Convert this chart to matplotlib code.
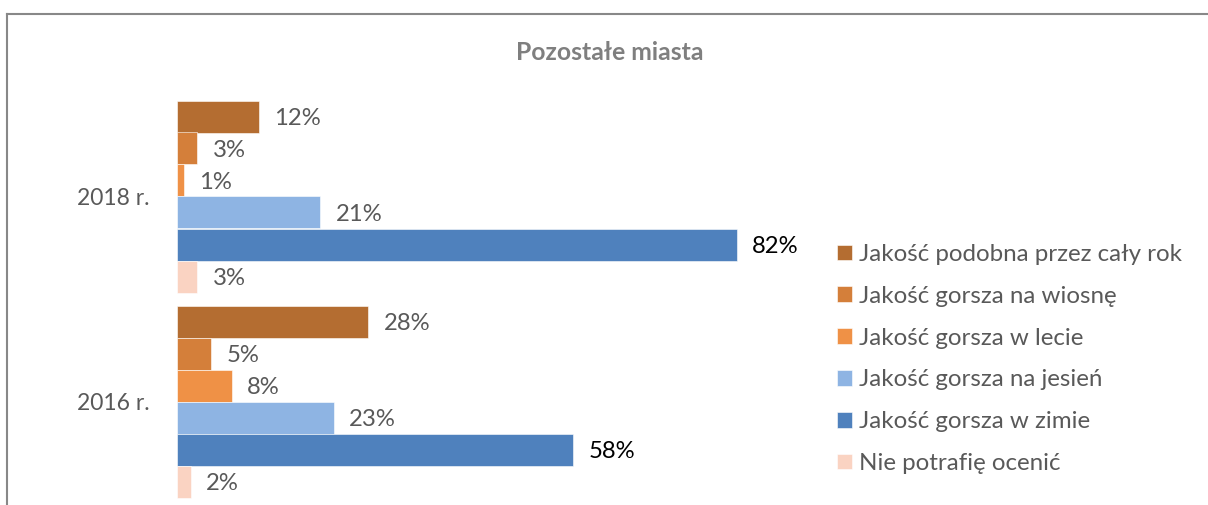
import matplotlib.pyplot as plt
from matplotlib.lines import Line2D
import numpy as np

plt.rcParams['font.family'] = ['Lato', 'DejaVu Sans']

categories = ['2018 r.', '2016 r.']
series = ['Jakość podobna przez cały rok', 'Jakość gorsza na wiosnę',
          'Jakość gorsza w lecie', 'Jakość gorsza na jesień',
          'Jakość gorsza w zimie', 'Nie potrafię ocenić']
values_2018 = [12, 3, 1, 21, 82, 3]
values_2016 = [28, 5, 8, 23, 58, 2]
colors = ['#B46D31', '#D47F3A', '#EF9146', '#8EB4E3', '#4F81BD', '#FAD3C2']
label_colors = ['#595959', '#595959', '#595959', '#595959', '#000000', '#595959']

W, H = 1208, 505
fig = plt.figure(figsize=(W / 100, H / 100), dpi=100)
ax = fig.add_axes([177 / W, 1 - 504 / H, 683 / W, 410 / H])

data = np.array([values_2018, values_2016])
cat_y = [1, 0]
h = 32 / 205
grp = 6 * h
fs = 16.5

for i, name in enumerate(series):
    ys = [cy + grp / 2 - (i + 0.5) * h for cy in cat_y]
    vals = data[:, i]
    ax.barh(ys, vals, height=h, color=colors[i], edgecolor='white',
            linewidth=0.4, label=name)
    for y, v in zip(ys, vals):
        ax.annotate(f'{v}%', (v, y - 0.01), xytext=(11, 0), textcoords='offset points',
                    ha='left', va='center', fontsize=17.2, color=label_colors[i])

ax.set_xlim(0, 100)
ax.set_ylim(-0.5, 1.5)
ax.set_yticks(cat_y)
ax.set_yticklabels(categories, fontsize=fs, color='#595959')
ax.tick_params(axis='y', length=0, pad=19.5)
ax.set_xticks([])
for s in ax.spines.values():
    s.set_visible(False)

leg = fig.legend(loc='center left', bbox_to_anchor=(837 / W, 1 - 359 / H),
                 frameon=False, fontsize=17.4, handlelength=0.63, handleheight=0.63,
                 handletextpad=0.3, labelspacing=0.86, borderpad=0, borderaxespad=0)
for t in leg.get_texts():
    t.set_color('#595959')

fig.text(610 / W, 1 - 52 / H, 'Pozostałe miasta', ha='center', va='center',
         fontsize=17.8, fontweight='bold', color='#7F7F7F')

fig.add_artist(Line2D([7 / W, 7 / W], [0, 1 - 14 / H], color='#888888', lw=1.5))
fig.add_artist(Line2D([7 / W, 1], [1 - 14 / H, 1 - 14 / H], color='#888888', lw=1.5))

fig.savefig('out.png', dpi=100)
